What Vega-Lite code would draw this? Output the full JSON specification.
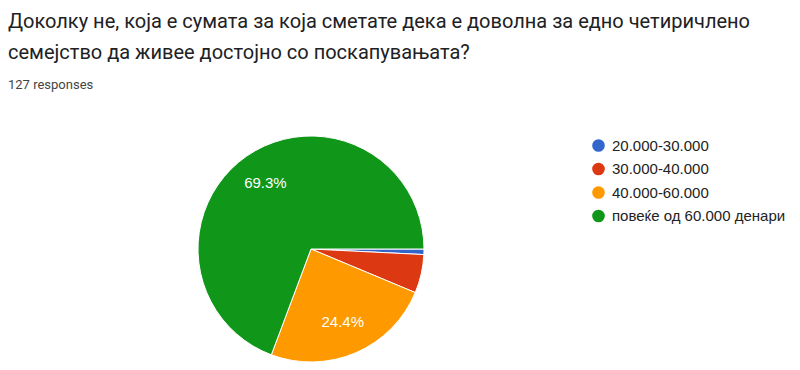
{
  "$schema": "https://vega.github.io/schema/vega-lite/v6.json",
  "width": 226,
  "height": 226,
  "autosize": {"type": "none"},
  "padding": {"left": 198, "top": 136, "right": 376, "bottom": 8},
  "background": "white",
  "config": {"view": {"stroke": null}, "font": "Roboto"},
  "title": {
    "text": ["Доколку не, која е сумата за која сметате дека е доволна за едно четиричлено", "семејство да живее достојно со поскапувањата?"],
    "subtitle": "127 responses",
    "anchor": "start",
    "frame": "group",
    "dx": -190,
    "offset": 42,
    "limit": 800,
    "font": "Roboto",
    "fontSize": 20,
    "fontWeight": "normal",
    "color": "#202124",
    "lineHeight": 31,
    "subtitleFont": "Roboto",
    "subtitleFontSize": 13,
    "subtitleColor": "#444444",
    "subtitlePadding": 16
  },
  "data": {
    "values": [
      {"category": "20.000-30.000", "count": 1, "ord": 1, "pct": "0.8%"},
      {"category": "30.000-40.000", "count": 7, "ord": 2, "pct": "5.5%"},
      {"category": "40.000-60.000", "count": 31, "ord": 3, "pct": "24.4%"},
      {"category": "повеќе од 60.000 денари", "count": 88, "ord": 4, "pct": "69.3%"}
    ]
  },
  "encoding": {
    "theta": {"field": "count", "type": "quantitative", "stack": true, "scale": {"range": [1.5708, 7.85398]}},
    "order": {"field": "ord", "type": "quantitative"},
    "color": {
      "field": "category",
      "type": "nominal",
      "scale": {
        "domain": ["20.000-30.000", "30.000-40.000", "40.000-60.000", "повеќе од 60.000 денари"],
        "range": ["#3366cc", "#dc3912", "#ff9900", "#109618"]
      },
      "legend": {
        "title": null,
        "orient": "none",
        "legendX": 393,
        "legendY": 2,
        "symbolType": "circle",
        "symbolSize": 160,
        "symbolStrokeWidth": 0,
        "labelFont": "Liberation Sans",
        "labelFontSize": 15,
        "labelColor": "#222222",
        "labelLimit": 300,
        "rowPadding": 7.5,
        "labelOffset": 6
      }
    }
  },
  "layer": [
    {"mark": {"type": "arc", "outerRadius": 113, "stroke": "white", "strokeWidth": 1}},
    {
      "mark": {"type": "text", "radius": 80, "fontSize": 15, "font": "Liberation Sans"},
      "encoding": {
        "text": {"condition": {"test": "datum.count > 20", "field": "pct"}, "value": ""},
        "color": {"value": "white"}
      }
    }
  ]
}
